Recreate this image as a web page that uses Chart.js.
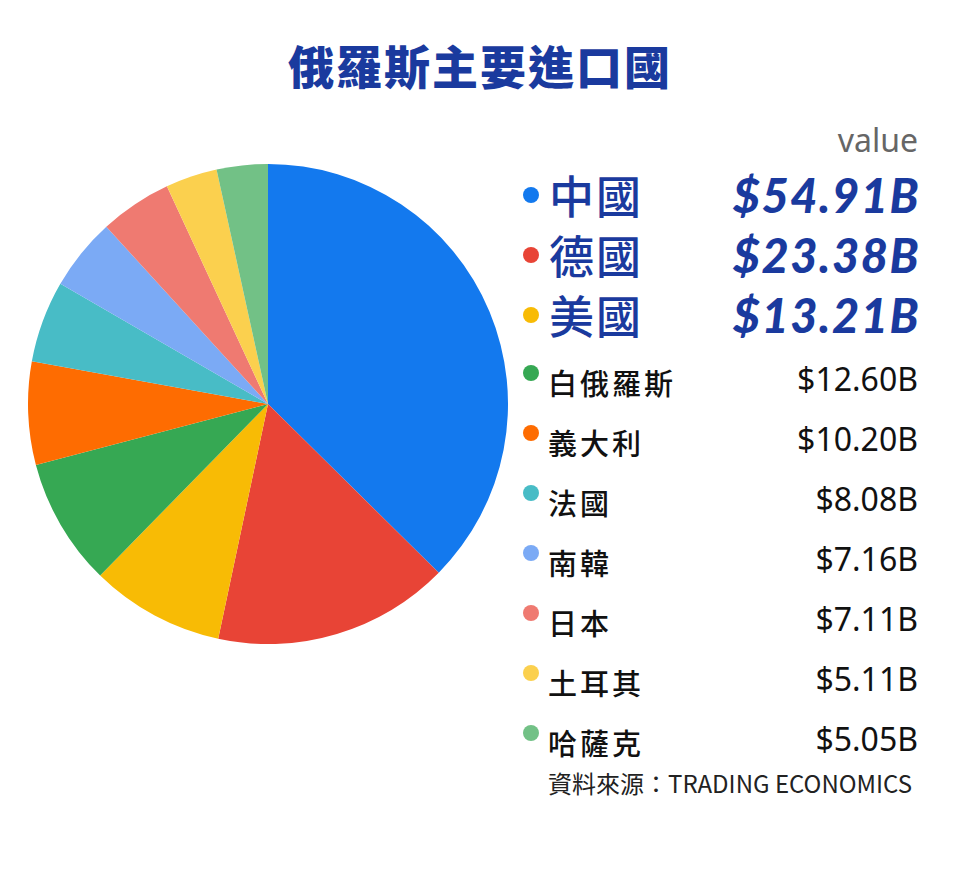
<!DOCTYPE html>
<html>
<head>
<meta charset="utf-8">
<script src="https://cdn.jsdelivr.net/npm/chart.js@4/dist/chart.umd.min.js"></script>
<style>
  html, body { margin:0; padding:0; background:#fff; }
  #wrap { position:relative; width:960px; height:880px; overflow:hidden; font-family:"Noto Sans CJK TC","Noto Sans",sans-serif; }
  #title { position:absolute; left:0; width:960px; top:32px; text-align:center; font-size:46px; font-weight:900; color:#1a3a9e; line-height:64px; letter-spacing:2px; }
  #pieBox { position:absolute; left:28px; top:164px; width:480px; height:480px; }
  .dot { position:absolute; width:16px; height:16px; border-radius:50%; }
  .name { position:absolute; white-space:nowrap; }
  .val { position:absolute; right:42px; white-space:nowrap; text-align:right; }
  .big.name { font-size:45px; color:#1a3a9e; font-weight:500; letter-spacing:2px; }
  .big.val { font-family:Lato,"Noto Sans",sans-serif; font-style:italic; font-weight:900; font-size:47px; color:#1a3a9e; letter-spacing:1.5px; right:40px; }
  .small.name { font-size:29px; color:#111; font-weight:500; letter-spacing:3px; }
  .small.val { font-family:"Noto Sans",sans-serif; font-size:32px; color:#111; }
  #hdr { position:absolute; right:42px; top:118px; font-family:"Noto Sans",sans-serif; font-size:32px; color:#666; }
  #src { position:absolute; left:548px; top:765px; font-size:24px; color:#222; white-space:nowrap; }
</style>
</head>
<body>
<div id="wrap">
  <div id="title">俄羅斯主要進口國</div>
  <div id="pieBox"><canvas id="c" width="480" height="480"></canvas></div>
  <div id="hdr">value</div>
  <div id="legend"></div>
  <div id="src">資料來源：TRADING ECONOMICS</div>
</div>
<script>
const countries = ["中國","德國","美國","白俄羅斯","義大利","法國","南韓","日本","土耳其","哈薩克"];
const values = [54.91, 23.38, 13.21, 12.60, 10.20, 8.08, 7.16, 7.11, 5.11, 5.05];
const valueLabels = ["$54.91B","$23.38B","$13.21B","$12.60B","$10.20B","$8.08B","$7.16B","$7.11B","$5.11B","$5.05B"];
const colors = ["#1379ee","#e84436","#f8bb05","#36a853","#fe6c01","#48bcc6","#7baaf5","#ef7a71","#fbd04e","#72c186"];

// Legend (HTML text)
const legend = document.getElementById('legend');
countries.forEach((name, i) => {
  const big = i < 3;
  const cy = big ? 195 + 60 * i : 382 + 60 * (i - 3);
  const dot = document.createElement('div');
  dot.className = 'dot';
  dot.style.background = colors[i];
  dot.style.left = (531 - 8) + 'px';
  dot.style.top = ((big ? cy : cy - 9) - 8) + 'px';
  legend.appendChild(dot);
  const n = document.createElement('div');
  n.className = 'name ' + (big ? 'big' : 'small');
  n.textContent = name;
  n.style.left = (big ? 549 : 548) + 'px';
  const lh = big ? 60 : 40;
  n.style.lineHeight = lh + 'px';
  n.style.top = (cy - lh / 2) + 'px';
  legend.appendChild(n);
  const v = document.createElement('div');
  v.className = 'val ' + (big ? 'big' : 'small');
  v.textContent = valueLabels[i];
  v.style.lineHeight = lh + 'px';
  v.style.top = (cy - lh / 2 + (big ? 0 : -3)) + 'px';
  legend.appendChild(v);
});

new Chart(document.getElementById('c'), {
  type: 'pie',
  data: {
    labels: countries,
    datasets: [{ data: values, backgroundColor: colors, borderWidth: 0 }]
  },
  options: {
    responsive: false,
    animation: false,
    plugins: { legend: { display: false }, tooltip: { enabled: false } },
    layout: { padding: 0 }
  }
});
</script>
</body>
</html>
